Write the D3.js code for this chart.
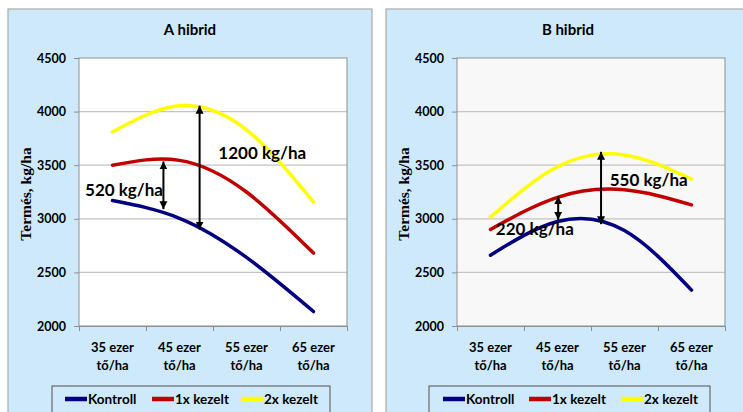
<!DOCTYPE html>
<html>
<head>
<meta charset="utf-8">
<script src="https://cdn.jsdelivr.net/npm/d3@7"></script>
<style>
  body { margin: 0; background: #fff; }
  text { font-family: Lato, "Open Sans", sans-serif; font-weight: bold; fill: #000; }
</style>
</head>
<body>
<div id="chart"></div>
<script>
// categories and tick labels
var categories = ["35 ezer tő/ha", "45 ezer tő/ha", "55 ezer tő/ha", "65 ezer tő/ha"];
var yTicks = [2000, 2500, 3000, 3500, 4000, 4500];
var seriesNames = ["Kontroll", "1x kezelt", "2x kezelt"];
var seriesColors = ["#000080", "#c00000", "#ffff00"];

// A hibrid
var aKontroll = [3170, 3005, 2640, 2135];
var a1x = [3500, 3545, 3250, 2680];
var a2x = [3810, 4055, 3830, 3155];

// B hibrid
var bKontroll = [2660, 2975, 2890, 2335];
var b1x = [2900, 3200, 3270, 3130];
var b2x = [3015, 3485, 3595, 3370];

// difference arrows (pos = category index, values in kg/ha)
var aArrows = [{ pos: 0.76, from: 3535, to: 3090 }, { pos: 1.30, from: 4055, to: 2900 }];
var aLabels = [{ text: "520 kg/ha", pos: -0.41, value: 3270 }, { text: "1200 kg/ha", pos: 1.58, value: 3620 }];
var bArrows = [{ pos: 1.01, from: 3210, to: 2990 }, { pos: 1.65, from: 3625, to: 2950 }];
var bLabels = [{ text: "220 kg/ha", pos: 0.08, value: 2914 }, { text: "550 kg/ha", pos: 1.78, value: 3371 }];

var W = 743, H = 412;
var svg = d3.select("#chart").append("svg")
    .attr("width", W)
    .attr("height", H);

// arrow head marker
svg.append("defs").append("marker")
    .attr("id", "head")
    .attr("viewBox", "0 0 10 10")
    .attr("refX", 10).attr("refY", 5)
    .attr("markerUnits", "userSpaceOnUse")
    .attr("markerWidth", 8).attr("markerHeight", 9)
    .attr("orient", "auto-start-reverse")
    .append("path")
    .attr("d", "M0,0L10,5L0,10Z")
    .attr("fill", "#000");

var panelW = 364, panelTop = 9;
var margin = { left: 71, top: 49 },
    width = 268,
    height = 268;

function drawPanel(left, title, series, arrows, labels, plotBg) {
    var g = svg.append("g").attr("transform", "translate(" + left + "," + panelTop + ")");

    g.append("rect")
        .attr("width", panelW).attr("height", H)
        .attr("fill", "#cde9fb")
        .attr("stroke", "#a9a9a9").attr("stroke-width", 1.2);

    g.append("text")
        .attr("x", panelW / 2).attr("y", 20)
        .attr("text-anchor", "middle")
        .attr("dominant-baseline", "central")
        .style("font-size", "15px")
        .text(title);

    var p = g.append("g").attr("transform", "translate(" + margin.left + "," + margin.top + ")");

    var x = d3.scaleBand().domain(categories).range([0, width]).padding(0);
    var xi = d3.scaleLinear().domain([-0.5, 3.5]).range([0, width]);
    var y = d3.scaleLinear().domain([2000, 4500]).range([height, 0]);

    p.append("rect")
        .attr("width", width).attr("height", height)
        .attr("fill", plotBg);

    // gridlines
    p.selectAll(".grid").data(yTicks.slice(1, -1)).enter()
        .append("line")
        .attr("x1", 0).attr("x2", width)
        .attr("y1", function(d) { return y(d); })
        .attr("y2", function(d) { return y(d); })
        .attr("stroke", "#c4c4c4").attr("stroke-width", 1.2);

    p.append("rect")
        .attr("width", width).attr("height", height)
        .attr("fill", "none")
        .attr("stroke", "#8f8f8f").attr("stroke-width", 1);

    // y axis
    var yAxis = p.append("g")
        .call(d3.axisLeft(y).tickValues(yTicks).tickFormat(d3.format("d")).tickSize(5).tickPadding(8));
    yAxis.select(".domain").remove();
    yAxis.selectAll("line").attr("stroke", "#8f8f8f");
    yAxis.selectAll("text").style("font-size", "12.5px").style("font-family", "Lato, sans-serif");

    // x axis ticks at category boundaries
    var xAxis = p.append("g")
        .attr("transform", "translate(0," + height + ")")
        .call(d3.axisBottom(xi).tickValues([-0.5, 0.5, 1.5, 2.5, 3.5]).tickSize(5).tickFormat(""));
    xAxis.select(".domain").attr("stroke", "#8f8f8f");
    xAxis.selectAll("line").attr("stroke", "#8f8f8f");

    var catLabels = p.selectAll(".cat").data(categories).enter()
        .append("text")
        .attr("text-anchor", "middle")
        .style("font-size", "13px")
        .attr("transform", function(d) { return "translate(" + (x(d) + x.bandwidth() / 2) + "," + (height + 26) + ")"; });
    catLabels.append("tspan").attr("x", 0).attr("y", 0)
        .text(function(d) { return d.split(" tő")[0]; });
    catLabels.append("tspan").attr("x", 0).attr("y", 18)
        .text(function(d) { return "tő" + d.split(" tő")[1]; });

    // y axis title
    g.append("text")
        .attr("transform", "translate(17," + 185 + ") rotate(-90)")
        .attr("text-anchor", "middle")
        .attr("dominant-baseline", "central")
        .style("font-family", "'Liberation Serif', 'DejaVu Serif', serif")
        .style("font-size", "15.5px")
        .text("Termés, kg/ha");

    // curves
    var line = d3.line()
        .x(function(d, i) { return x(categories[i]) + x.bandwidth() / 2; })
        .y(function(d) { return y(d); })
        .curve(d3.curveNatural);

    p.selectAll(".series").data(series).enter()
        .append("path")
        .attr("d", function(d) { return line(d); })
        .attr("fill", "none")
        .attr("stroke", function(d, i) { return seriesColors[i]; })
        .attr("stroke-width", 3.5)
        .attr("stroke-linecap", "round");

    // arrows
    p.selectAll(".arrow").data(arrows).enter()
        .append("line")
        .attr("x1", function(d) { return xi(d.pos); })
        .attr("x2", function(d) { return xi(d.pos); })
        .attr("y1", function(d) { return y(d.from); })
        .attr("y2", function(d) { return y(d.to); })
        .attr("stroke", "#000").attr("stroke-width", 2)
        .attr("marker-start", "url(#head)")
        .attr("marker-end", "url(#head)");

    p.selectAll(".lbl").data(labels).enter()
        .append("text")
        .attr("x", function(d) { return xi(d.pos); })
        .attr("y", function(d) { return y(d.value); })
        .attr("dominant-baseline", "central")
        .style("font-size", "17px")
        .text(function(d) { return d.text; });

    return g;
}

function drawLegend(g, lx, lw, offsets) {
    var lg = g.append("g").attr("transform", "translate(" + lx + ",377)");
    lg.append("rect")
        .attr("width", lw).attr("height", 40)
        .attr("fill", "#cde9fb")
        .attr("stroke", "#505050").attr("stroke-width", 1);
    var item = lg.selectAll(".item").data(seriesNames).enter()
        .append("g")
        .attr("transform", function(d, i) { return "translate(" + offsets[i] + ",13)"; });
    item.append("line")
        .attr("x1", 0).attr("x2", 22)
        .attr("stroke", function(d, i) { return seriesColors[i]; })
        .attr("stroke-width", 4.5);
    item.append("text")
        .attr("x", 23)
        .attr("dominant-baseline", "central")
        .style("font-size", "13.5px")
        .text(function(d) { return d; });
}

var gA = drawPanel(8, "A hibrid", [aKontroll, a1x, a2x], aArrows, aLabels, "#ffffff");
drawLegend(gA, 44, 278, [13, 100, 189]);

var gB = drawPanel(386, "B hibrid", [bKontroll, b1x, b2x], bArrows, bLabels, "#f8f8f8");
drawLegend(gB, 43, 281, [14, 100, 192]);
</script>
</body>
</html>
